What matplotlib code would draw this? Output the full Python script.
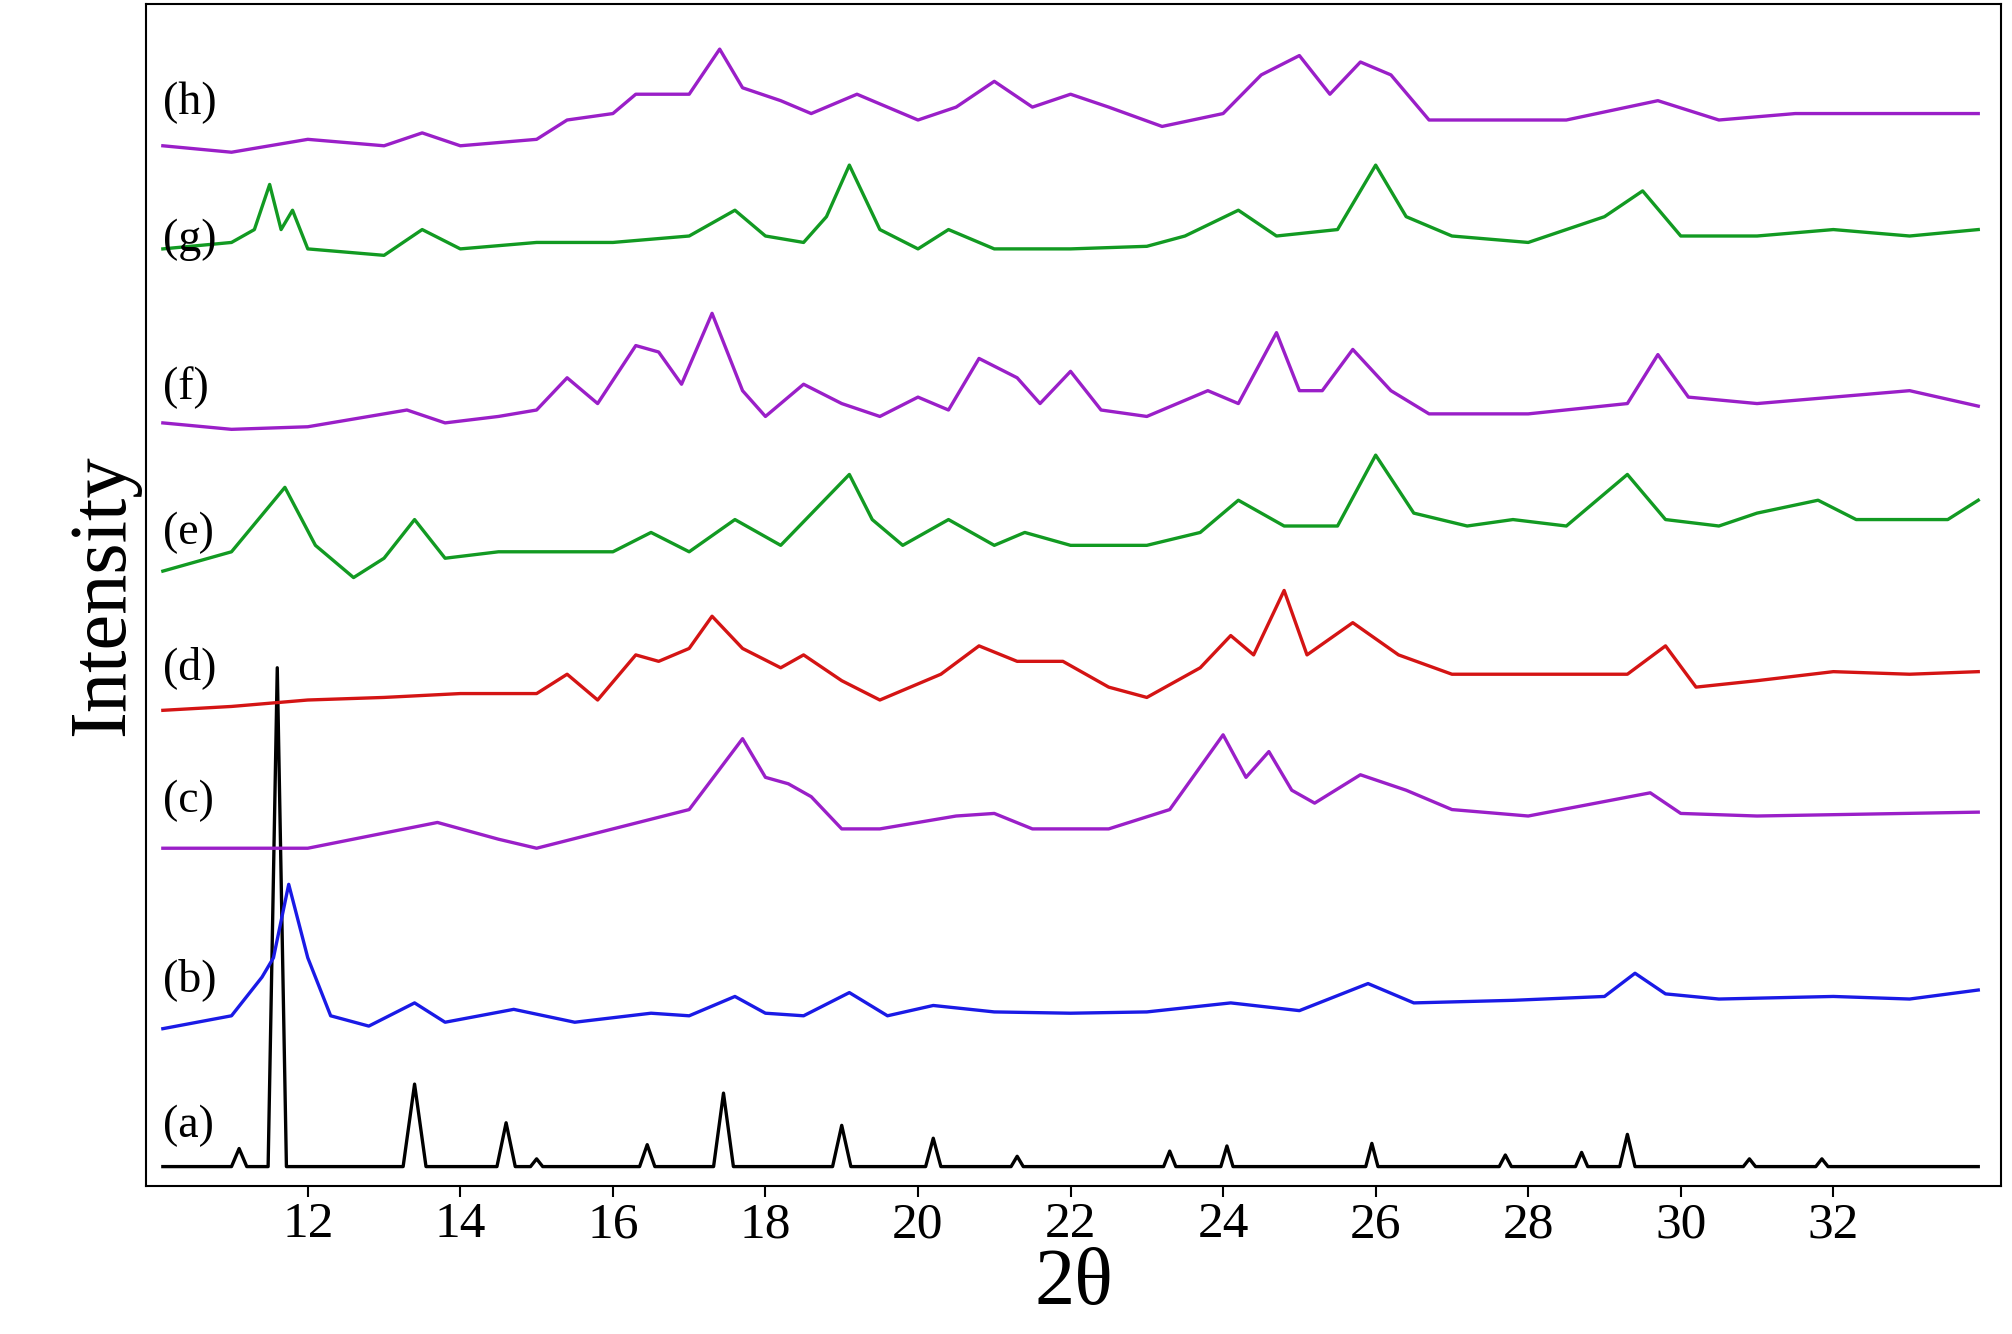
import numpy as np
import matplotlib
matplotlib.use("Agg")
import matplotlib.pyplot as plt

plt.rcParams["font.family"] = ["Liberation Serif", "DejaVu Serif"]

# heights, in pixel rows of the reference (row 917 = x axis)
a_x = [10.1, 11.0, 11.1, 11.2, 11.48, 11.6, 11.72, 13.25, 13.4, 13.55, 14.48, 14.6, 14.72, 14.92, 15.0, 15.08,
       16.35, 16.45, 16.55, 17.32, 17.45, 17.58, 18.88, 19.0, 19.12, 20.1, 20.2, 20.3, 21.22, 21.3, 21.38,
       23.22, 23.3, 23.38, 23.97, 24.05, 24.13, 25.87, 25.95, 26.03, 27.62, 27.7, 27.78, 28.62, 28.7, 28.78,
       29.2, 29.3, 29.4, 30.82, 30.9, 30.98, 31.77, 31.85, 31.93, 33.9]
a_row = [902, 902, 888, 902, 902, 515, 902, 902, 838, 902, 902, 868, 902, 902, 896, 902,
         902, 885, 902, 902, 845, 902, 902, 870, 902, 902, 880, 902, 902, 894, 902,
         902, 890, 902, 902, 886, 902, 902, 884, 902, 902, 893, 902, 902, 891, 902,
         902, 877, 902, 902, 896, 902, 902, 896, 902, 902]

b_x = [10.1, 11.0, 11.4, 11.55, 11.75, 12.0, 12.3, 12.8, 13.4, 13.8, 14.7, 15.5, 16.5, 17.0, 17.6, 18.0, 18.5,
       19.1, 19.6, 20.2, 21.0, 22.0, 23.0, 24.1, 25.0, 25.9, 26.5, 27.8, 29.0, 29.4, 29.8, 30.5, 32.0, 33.0, 33.9]
b_row = [795, 785, 755, 740, 683, 740, 785, 793, 775, 790, 780, 790, 783, 785, 770, 783, 785,
         767, 785, 777, 782, 783, 782, 775, 781, 760, 775, 773, 770, 752, 768, 772, 770, 772, 765]

c_x = [10.1, 12.0, 13.7, 14.5, 15.0, 16.0, 17.0, 17.7, 18.0, 18.3, 18.6, 19.0, 19.5, 20.5, 21.0, 21.5, 22.5,
       23.3, 24.0, 24.3, 24.6, 24.9, 25.2, 25.8, 26.4, 27.0, 28.0, 29.6, 30.0, 31.0, 33.9]
c_row = [655, 655, 635, 648, 655, 640, 625, 570, 600, 605, 615, 640, 640, 630, 628, 640, 640,
         625, 567, 600, 580, 610, 620, 598, 610, 625, 630, 612, 628, 630, 627]

d_x = [10.1, 11.0, 12.0, 13.0, 14.0, 15.0, 15.4, 15.8, 16.3, 16.6, 17.0, 17.3, 17.7, 18.2, 18.5, 19.0, 19.5,
       20.3, 20.8, 21.3, 21.9, 22.5, 23.0, 23.7, 24.1, 24.4, 24.8, 25.1, 25.7, 26.3, 27.0, 28.0, 29.3, 29.8,
       30.2, 31.0, 32.0, 33.0, 33.9]
d_row = [548, 545, 540, 538, 535, 535, 520, 540, 505, 510, 500, 475, 500, 515, 505, 525, 540,
         520, 498, 510, 510, 530, 538, 515, 490, 505, 455, 505, 480, 505, 520, 520, 520, 498,
         530, 525, 518, 520, 518]

e_x = [10.1, 11.0, 11.7, 12.1, 12.6, 13.0, 13.4, 13.8, 14.5, 15.5, 16.0, 16.5, 17.0, 17.6, 18.2, 19.1, 19.4,
       19.8, 20.4, 21.0, 21.4, 22.0, 23.0, 23.7, 24.2, 24.8, 25.5, 26.0, 26.5, 27.2, 27.8, 28.5, 29.3, 29.8,
       30.5, 31.0, 31.8, 32.3, 33.5, 33.9]
e_row = [440, 425, 375, 420, 445, 430, 400, 430, 425, 425, 425, 410, 425, 400, 420, 365, 400,
         420, 400, 420, 410, 420, 420, 410, 385, 405, 405, 350, 395, 405, 400, 405, 365, 400,
         405, 395, 385, 400, 400, 385]

f_x = [10.1, 11.0, 12.0, 13.3, 13.8, 14.5, 15.0, 15.4, 15.8, 16.3, 16.6, 16.9, 17.3, 17.7, 18.0, 18.5, 19.0,
       19.5, 20.0, 20.4, 20.8, 21.3, 21.6, 22.0, 22.4, 23.0, 23.8, 24.2, 24.7, 25.0, 25.3, 25.7, 26.2, 26.7,
       28.0, 29.3, 29.7, 30.1, 31.0, 32.0, 33.0, 33.9]
f_row = [325, 330, 328, 315, 325, 320, 315, 290, 310, 265, 270, 295, 240, 300, 320, 295, 310,
         320, 305, 315, 275, 290, 310, 285, 315, 320, 300, 310, 255, 300, 300, 268, 300, 318,
         318, 310, 272, 305, 310, 305, 300, 312]

g_x = [10.1, 11.0, 11.3, 11.5, 11.65, 11.8, 12.0, 13.0, 13.5, 14.0, 15.0, 16.0, 17.0, 17.6, 18.0, 18.5, 18.8,
       19.1, 19.5, 20.0, 20.4, 21.0, 22.0, 23.0, 23.5, 24.2, 24.7, 25.5, 26.0, 26.4, 27.0, 28.0, 29.0, 29.5,
       30.0, 31.0, 32.0, 33.0, 33.9]
g_row = [190, 185, 175, 140, 175, 160, 190, 195, 175, 190, 185, 185, 180, 160, 180, 185, 165,
         125, 175, 190, 175, 190, 190, 188, 180, 160, 180, 175, 125, 165, 180, 185, 165, 145,
         180, 180, 175, 180, 175]

h_x = [10.1, 11.0, 12.0, 13.0, 13.5, 14.0, 15.0, 15.4, 16.0, 16.3, 17.0, 17.4, 17.7, 18.2, 18.6, 19.2, 20.0,
       20.5, 21.0, 21.5, 22.0, 22.5, 23.2, 24.0, 24.5, 25.0, 25.4, 25.8, 26.2, 26.7, 27.5, 28.5, 29.7, 30.5,
       31.5, 32.5, 33.9]
h_row = [110, 115, 105, 110, 100, 110, 105, 90, 85, 70, 70, 35, 65, 75, 85, 70, 90,
         80, 60, 80, 70, 80, 95, 85, 55, 40, 70, 45, 55, 90, 90, 90, 75, 90,
         85, 85, 85]

traces = [
    ("(a)", a_x, a_row, "#000000", 870),
    ("(b)", b_x, b_row, "#1a1ae6", 757),
    ("(c)", c_x, c_row, "#9a1fc8", 618),
    ("(d)", d_x, d_row, "#d41414", 515),
    ("(e)", e_x, e_row, "#129a22", 410),
    ("(f)", f_x, f_row, "#9a1fc8", 298),
    ("(g)", g_x, g_row, "#129a22", 183),
    ("(h)", h_x, h_row, "#9a1fc8", 77),
]
x_ticks = [12, 14, 16, 18, 20, 22, 24, 26, 28, 30, 32]

fig = plt.figure(figsize=(20.12, 13.34), dpi=100)
ax = fig.add_axes([0.0726, 0.111, 0.922, 0.886])

for label, xs, rows, col, lab_row in traces:
    ys = (917 - np.array(rows)) / 10.0
    ax.plot(xs, ys, color=col, lw=2.4)
    ax.text(10.1, (917 - lab_row) / 10.0, label, fontsize=33, va="center", ha="left")

ax.set_xlim(9.88, 34.2)
ax.set_ylim(0, 91.7)
ax.set_xticks(x_ticks)
ax.set_yticks([])
ax.tick_params(axis="x", labelsize=37, length=8, width=1.5, direction="out")
ax.set_xlabel("2θ", fontsize=58, labelpad=0)
ax.set_ylabel("Intensity", fontsize=58, labelpad=4)
for s in ax.spines.values():
    s.set_linewidth(1.5)

fig.savefig("out.png", dpi=100)
